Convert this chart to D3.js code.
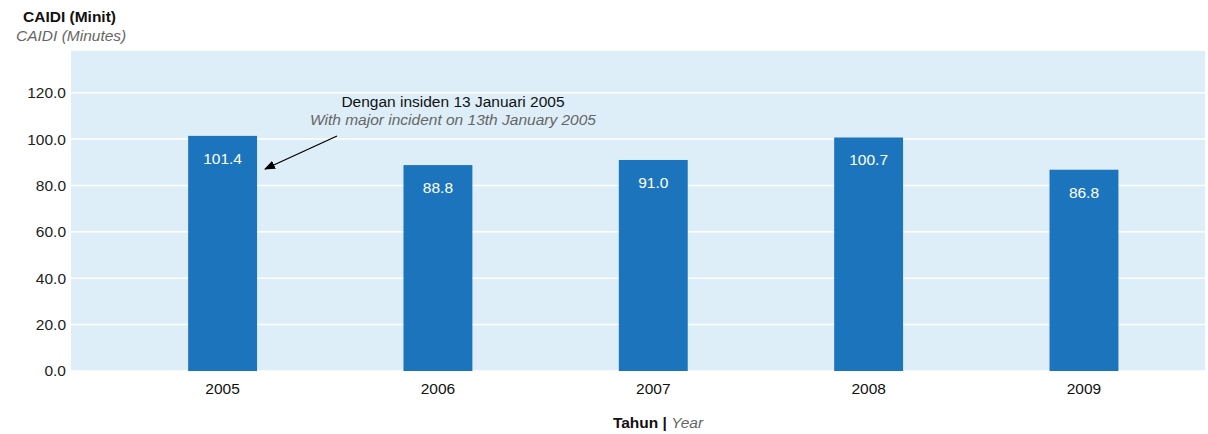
<!DOCTYPE html>
<html>
<head>
<meta charset="utf-8">
<script src="https://cdn.jsdelivr.net/npm/d3@7"></script>
<style>
  html, body { margin: 0; padding: 0; background: #fff; }
  svg { display: block; font-family: "Liberation Sans", Arial, sans-serif; }
</style>
</head>
<body>
<svg id="chart" width="1208" height="434"></svg>
<script>
// CAIDI per year
const years = ["2005", "2006", "2007", "2008", "2009"];
const caidi = [101.4, 88.8, 91.0, 100.7, 86.8];
const yTicks = [0, 20, 40, 60, 80, 100, 120];

const W = 1208, H = 434;
const plot = { left: 71, right: 1205, top: 51, bottom: 371 };
const FS = 15.5;

const svg = d3.select("#chart");

const x = d3.scaleBand()
  .domain(years)
  .range([plot.left, plot.right])
  .paddingInner(0.68)
  .paddingOuter(0.473)
  .align(0.575);

const y = d3.scaleLinear()
  .domain([0, 138])
  .range([plot.bottom, plot.top]);

// plot background
svg.append("rect")
  .attr("x", plot.left).attr("y", plot.top)
  .attr("width", plot.right - plot.left)
  .attr("height", plot.bottom - plot.top)
  .attr("fill", "#ddeef8");

// white gridlines
svg.append("g")
  .selectAll("line")
  .data(yTicks)
  .join("line")
  .attr("x1", plot.left).attr("x2", plot.right)
  .attr("y1", d => y(d)).attr("y2", d => y(d))
  .attr("stroke", "#fff").attr("stroke-width", 1.5);

// y axis labels
const yAxis = d3.axisLeft(y).tickValues(yTicks).tickFormat(d3.format(".1f")).tickSize(0).tickPadding(5);
svg.append("g")
  .attr("transform", `translate(${plot.left},0)`)
  .call(yAxis)
  .call(g => g.select(".domain").remove())
  .selectAll("text")
  .attr("font-size", FS)
  .attr("font-family", "Liberation Sans, Arial, sans-serif")
  .attr("fill", "#222");

// bars
svg.append("g")
  .selectAll("rect")
  .data(years)
  .join("rect")
  .attr("x", d => x(d))
  .attr("width", x.bandwidth())
  .attr("y", (d, i) => y(caidi[i]))
  .attr("height", (d, i) => y(0) - y(caidi[i]))
  .attr("fill", "#1c75bc");

// value labels
svg.append("g")
  .selectAll("text")
  .data(years)
  .join("text")
  .attr("x", d => x(d) + x.bandwidth() / 2)
  .attr("y", (d, i) => y(caidi[i]) + 28)
  .attr("text-anchor", "middle")
  .attr("font-size", FS)
  .attr("fill", "#fff")
  .text((d, i) => d3.format(".1f")(caidi[i]));

// x axis labels
const xAxis = d3.axisBottom(x).tickSize(0).tickPadding(12);
svg.append("g")
  .attr("transform", `translate(0,${plot.bottom})`)
  .call(xAxis)
  .call(g => g.select(".domain").remove())
  .selectAll("text")
  .attr("font-size", FS)
  .attr("font-family", "Liberation Sans, Arial, sans-serif")
  .attr("fill", "#111");

// title
svg.append("text")
  .attr("x", 23).attr("y", 22)
  .attr("font-size", FS).attr("font-weight", "bold").attr("fill", "#111")
  .text("CAIDI (Minit)");
svg.append("text")
  .attr("x", 16).attr("y", 41)
  .attr("font-size", FS).attr("font-style", "italic").attr("fill", "#666")
  .text("CAIDI (Minutes)");

// x axis title
const xt = svg.append("text")
  .attr("x", 658).attr("y", 428)
  .attr("text-anchor", "middle")
  .attr("font-size", FS);
xt.append("tspan").attr("font-weight", "bold").attr("fill", "#111").text("Tahun | ");
xt.append("tspan").attr("font-style", "italic").attr("fill", "#666").text("Year");

// annotation for the 2005 incident
const note = { x: 453, y: 107 };
svg.append("text")
  .attr("x", note.x).attr("y", note.y)
  .attr("text-anchor", "middle")
  .attr("font-size", FS).attr("fill", "#111")
  .text("Dengan insiden 13 Januari 2005");
svg.append("text")
  .attr("x", note.x).attr("y", note.y + 18)
  .attr("text-anchor", "middle")
  .attr("font-size", FS).attr("font-style", "italic").attr("fill", "#666")
  .text("With major incident on 13th January 2005");

svg.append("defs").append("marker")
  .attr("id", "arrow")
  .attr("viewBox", "0 0 10 10")
  .attr("refX", 9).attr("refY", 5)
  .attr("markerWidth", 11).attr("markerHeight", 11)
  .attr("markerUnits", "userSpaceOnUse")
  .attr("orient", "auto")
  .append("path")
  .attr("d", "M0,1 L10,5 L0,9 Z")
  .attr("fill", "#000");

// arrow from the note to the right edge of the 2005 bar
svg.append("line")
  .attr("x1", note.x - 116).attr("y1", note.y + 29)
  .attr("x2", x("2005") + x.bandwidth() + 8).attr("y2", note.y + 62)
  .attr("stroke", "#000").attr("stroke-width", 1.3)
  .attr("marker-end", "url(#arrow)");
</script>
</body>
</html>
